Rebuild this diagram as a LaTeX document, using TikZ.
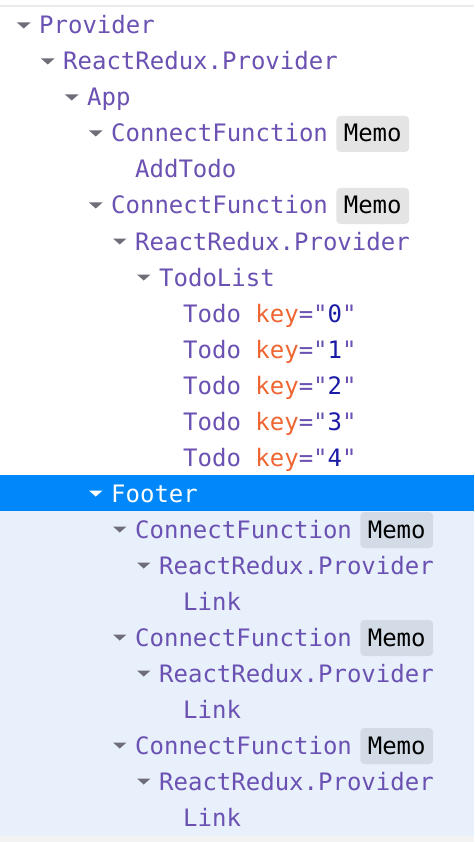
\documentclass[tikz,border=0pt]{standalone}
\usepackage{fontspec}
\setmonofont{DejaVu Sans Mono}
\definecolor{cname}{HTML}{6A51B2}
\definecolor{ckey}{HTML}{EF6632}
\definecolor{cval}{HTML}{1A1AA6}
\definecolor{csel}{HTML}{0088FA}
\definecolor{cselbg}{HTML}{E8F0FC}
\definecolor{ctri}{HTML}{6E6E78}
\definecolor{cbadge}{HTML}{E4E4E4}
\definecolor{cbadgeb}{HTML}{D2DBE6}
\definecolor{ctopline}{HTML}{EBEBEB}
\definecolor{cbottom}{HTML}{F3F3F3}
\newcommand\treerow[5][cname]{%
  \pgfmathsetmacro\rx{39+24*#3}\pgfmathsetmacro\ry{34+36*#4}%
  \node[lbl,text=#1] (#2) at (\rx,\ry) {#5};}
\newcommand\treetri[3]{%
  \pgfmathsetmacro\rx{39+24*#1}\pgfmathsetmacro\rc{25+36*#2}%
  \fill[#3] (\rx-22,\rc-2.5) -- (\rx-8.5,\rc-2.5) -- (\rx-15.25,\rc+3.5) -- cycle;}
\newcommand\memo[3]{%
  \node[badge,fill=#3] (#1) at ([xshift=8pt]#2.base east) {Memo};}
\newcommand\todokey[1]{Todo {\color{ckey}key}="{\color{cval}#1}"}
\begin{document}
\begin{tikzpicture}[x=1pt,y=-1pt,
  lbl/.style={anchor=base west,inner sep=0pt,font=\ttfamily\fontsize{24}{28}\selectfont},
  badge/.style={anchor=base west,inner xsep=7.5pt,inner ysep=0pt,text height=26pt,text depth=10pt,
    rounded corners=4pt,text=black,font=\ttfamily\fontsize{24}{28}\selectfont}]
\useasboundingbox (0,0) rectangle (474,842);
\fill[white] (0,0) rectangle (474,842);
\fill[ctopline] (0,5) rectangle (474,7.5);
\fill[csel] (0,475) rectangle (474,511);
\fill[cselbg] (0,511) rectangle (474,835.5);
\fill[cbottom] (0,835.5) rectangle (474,842);
% rows
\treetri{0}{0}{ctri}\treerow{r0}{0}{0}{Provider}
\treetri{1}{1}{ctri}\treerow{r1}{1}{1}{ReactRedux.Provider}
\treetri{2}{2}{ctri}\treerow{r2}{2}{2}{App}
\treetri{3}{3}{ctri}\treerow{r3}{3}{3}{ConnectFunction}\memo{m3}{r3}{cbadge}
\treerow{r4}{4}{4}{AddTodo}
\treetri{3}{5}{ctri}\treerow{r5}{3}{5}{ConnectFunction}\memo{m5}{r5}{cbadge}
\treetri{4}{6}{ctri}\treerow{r6}{4}{6}{ReactRedux.Provider}
\treetri{5}{7}{ctri}\treerow{r7}{5}{7}{TodoList}
\treerow{r8}{6}{8}{\todokey{0}}
\treerow{r9}{6}{9}{\todokey{1}}
\treerow{r10}{6}{10}{\todokey{2}}
\treerow{r11}{6}{11}{\todokey{3}}
\treerow{r12}{6}{12}{\todokey{4}}
\treetri{3}{13}{white}\treerow[white]{r13}{3}{13}{Footer}
\treetri{4}{14}{ctri}\treerow{r14}{4}{14}{ConnectFunction}\memo{m14}{r14}{cbadgeb}
\treetri{5}{15}{ctri}\treerow{r15}{5}{15}{ReactRedux.Provider}
\treerow{r16}{6}{16}{Link}
\treetri{4}{17}{ctri}\treerow{r17}{4}{17}{ConnectFunction}\memo{m17}{r17}{cbadgeb}
\treetri{5}{18}{ctri}\treerow{r18}{5}{18}{ReactRedux.Provider}
\treerow{r19}{6}{19}{Link}
\treetri{4}{20}{ctri}\treerow{r20}{4}{20}{ConnectFunction}\memo{m20}{r20}{cbadgeb}
\treetri{5}{21}{ctri}\treerow{r21}{5}{21}{ReactRedux.Provider}
\treerow{r22}{6}{22}{Link}
\end{tikzpicture}
\end{document}
